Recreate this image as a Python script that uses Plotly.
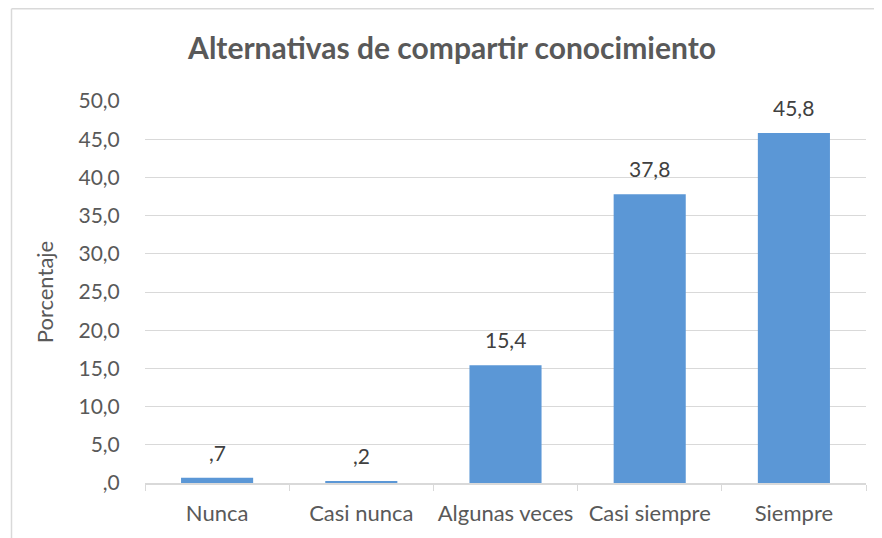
import plotly.graph_objects as go

categories = ["Nunca", "Casi nunca", "Algunas veces", "Casi siempre", "Siempre"]
values = [0.7, 0.2, 15.4, 37.8, 45.8]
tick_vals = [0, 5, 10, 15, 20, 25, 30, 35, 40, 45, 50]
tick_text = [",0", "5,0", "10,0", "15,0", "20,0", "25,0", "30,0", "35,0", "40,0", "45,0", "50,0"]


def fmt(v):
    s = f"{v:.1f}".replace(".", ",")
    if s.startswith("0,"):
        s = s[1:]
    return s


FONT = "Lato, 'Open Sans', sans-serif"
GRAY = "#595959"
GRID = "#d9d9d9"

fig = go.Figure(
    go.Bar(
        x=categories,
        y=values,
        marker=dict(color="#5b97d6", line=dict(width=0)),
        hoverinfo="skip",
    )
)

for c, v in zip(categories, values):
    fig.add_annotation(
        x=c, y=v, text=fmt(v), showarrow=False, yanchor="bottom", yshift=11,
        font=dict(family=FONT, size=21, color="#404040"),
    )

# page body adds an 8px offset, so the figure is sized to fit the window
W, H = 874, 530
L, R, T, B = 137, 16, 93, 55
pw, ph = W - L - R, H - T - B

# chart border: only the left and top edges are visible in the window
bx = (3.5 - L) / pw
by = (H - 0.75 - B) / ph
fig.add_shape(type="line", xref="paper", yref="paper", x0=bx, x1=bx, y0=by, y1=(-B - 20) / ph,
              line=dict(color="#d9d9d9", width=1.5), layer="below")
fig.add_shape(type="line", xref="paper", yref="paper", x0=bx, x1=(W + 20 - L) / pw, y0=by, y1=by,
              line=dict(color="#d9d9d9", width=1.5), layer="below")

fig.update_layout(
    width=W, height=H,
    margin=dict(l=L, r=R, t=T, b=B, autoexpand=False),
    paper_bgcolor="white", plot_bgcolor="white",
    bargap=0.5,
    showlegend=False,
    title=dict(
        text="<b>Alternativas de compartir conocimiento</b>",
        x=444 / W, xanchor="center", y=1 - 40 / H, yanchor="middle",
        font=dict(family=FONT, size=30, color=GRAY),
    ),
    xaxis=dict(
        showline=True, linecolor=GRID, linewidth=1.5,
        ticks="outside", tickson="boundaries", ticklen=6, tickcolor=GRID,
        ticklabelstandoff=10, tickangle=0, automargin=False,
        tickfont=dict(family=FONT, size=22, color=GRAY),
        showgrid=False,
    ),
    yaxis=dict(
        range=[0, 50], tickvals=tick_vals, ticktext=tick_text,
        showgrid=True, gridcolor=GRID, gridwidth=1.2,
        zeroline=False, showline=False, automargin=False,
        ticks="outside", ticklen=20, tickcolor="rgba(0,0,0,0)",
        tickfont=dict(family=FONT, size=21, color=GRAY),
        title=dict(text="Porcentaje", standoff=18,
                   font=dict(family=FONT, size=22, color=GRAY)),
    ),
)

fig.write_html("out.html")
